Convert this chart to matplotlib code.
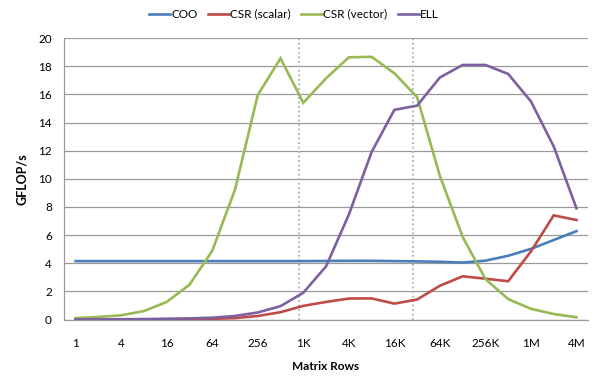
import matplotlib
matplotlib.use("Agg")
import matplotlib.pyplot as plt
import numpy as np

plt.rcParams['font.family'] = ['Lato', 'DejaVu Sans']

# Matrix row counts: powers of two from 1 to 4M (category axis)
row_labels = ['1', '2', '4', '8', '16', '32', '64', '128', '256', '512',
              '1K', '2K', '4K', '8K', '16K', '32K', '64K', '128K', '256K', '512K',
              '1M', '2M', '4M']

coo = [4.15, 4.15, 4.15, 4.15, 4.15, 4.15, 4.15, 4.15, 4.15, 4.15,
       4.15, 4.16, 4.17, 4.17, 4.15, 4.13, 4.10, 4.05, 4.18, 4.53,
       5.02, 5.65, 6.28]
csr_scalar = [0.01, 0.01, 0.01, 0.01, 0.02, 0.03, 0.05, 0.10, 0.25, 0.52,
              0.97, 1.25, 1.49, 1.50, 1.13, 1.42, 2.40, 3.07, 2.90, 2.72,
              4.84, 7.40, 7.07]
csr_vector = [0.10, 0.18, 0.30, 0.60, 1.25, 2.47, 4.88, 9.23, 15.96, 18.56,
              15.40, 17.14, 18.63, 18.67, 17.50, 15.80, 10.20, 5.87, 2.88, 1.45,
              0.76, 0.39, 0.16]
ell = [0.01, 0.01, 0.02, 0.03, 0.05, 0.08, 0.13, 0.25, 0.50, 0.95,
       1.90, 3.78, 7.45, 11.90, 14.90, 15.20, 17.20, 18.09, 18.09, 17.45,
       15.50, 12.30, 7.90]

series_names = ['COO', 'CSR (scalar)', 'CSR (vector)', 'ELL']
series_colors = ['#4a7ebb', '#be4b48', '#98b954', '#7d60a0']

# Marker lines between cache-size regimes (category positions)
boundaries = [9.8, 14.84]

fig = plt.figure(figsize=(5.95, 3.77), dpi=100)
ax = fig.add_axes([0.108, 0.1525, 0.880, 0.7465])

x = np.arange(len(row_labels))
for y, name, color in zip([coo, csr_scalar, csr_vector, ell], series_names, series_colors):
    ax.plot(x, y, color=color, lw=1.9, label=name, solid_joinstyle='miter', zorder=3)

for b in boundaries:
    ax.axvline(b, color='#b0b0b0', lw=1.3, ls=(0, (1, 1.5)), zorder=2)

ax.set_xlim(-0.5, len(row_labels) - 0.5)
ax.set_ylim(0, 20)
ax.set_yticks(np.arange(0, 21, 2))
ax.set_xticks(x[::2])
ax.set_xticklabels(row_labels[::2])
ax.grid(axis='y', color='#9a9a9a', lw=0.9, zorder=1)
ax.set_axisbelow(True)

for s in ['top', 'right']:
    ax.spines[s].set_visible(False)
ax.spines['left'].set_color('#9a9a9a')
ax.spines['bottom'].set_color('#9a9a9a')
ax.spines['left'].set_linewidth(0.9)
ax.spines['bottom'].set_linewidth(0.9)

ax.tick_params(axis='both', length=0, labelsize=8.5, colors='black')
ax.tick_params(axis='x', pad=13)
ax.tick_params(axis='y', pad=9)

ax.set_xlabel('Matrix Rows', fontsize=8.5, fontweight='bold', labelpad=9)
ax.set_ylabel('GFLOP/s', fontsize=9, fontweight='bold', labelpad=7)

fig.legend(loc='upper center', bbox_to_anchor=(0.494, 1.005), ncol=4, frameon=False,
           fontsize=8.5, handlelength=1.8, handletextpad=0.1, columnspacing=0.85)

fig.savefig('out.png', dpi=100)
